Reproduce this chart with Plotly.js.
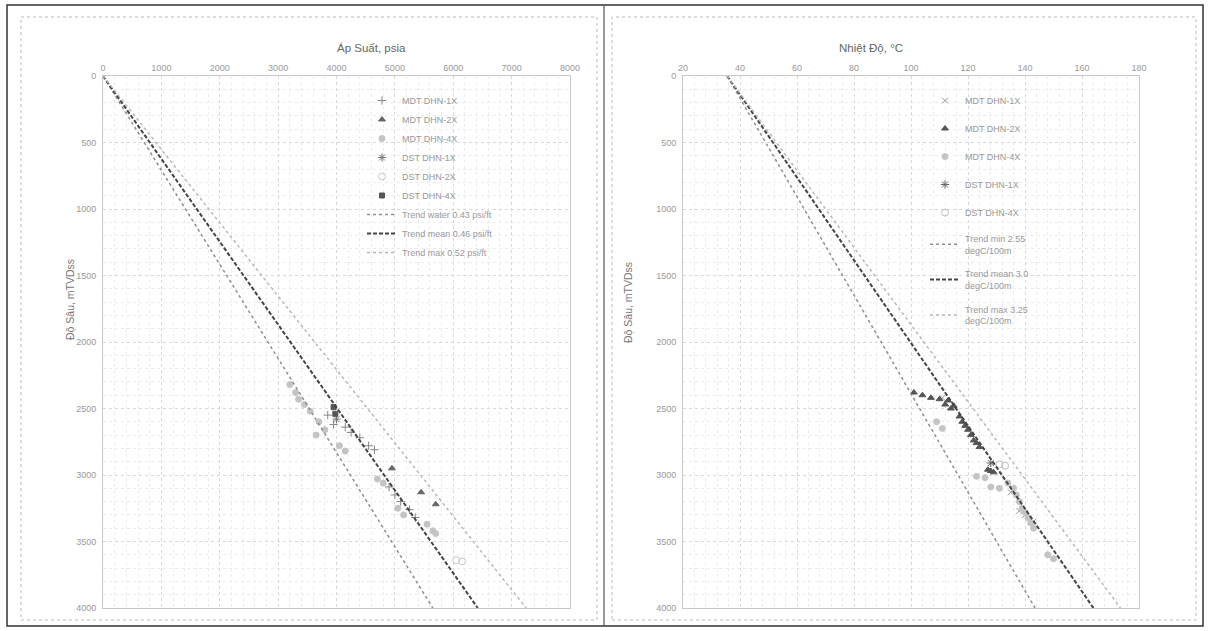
<!DOCTYPE html>
<html><head><meta charset="utf-8">
<script src="https://cdn.plot.ly/plotly-3.0.1.min.js"></script>
<style>html,body{margin:0;padding:0;background:#fff}#chart{width:1210px;height:631px}</style>
</head><body><div id="chart"></div>
<script>
// ---------- Left chart: pressure (psia) vs depth (mTVDss) ----------
const mdt1x_P = [3850,3950,4150,4250,4400,4550,4650,4900,5000,5100,5250,5350];
const mdt1x_D = [2550,2620,2640,2680,2720,2780,2810,3090,3150,3200,3260,3320];
const mdt2x_P = [4950,5450,5700];
const mdt2x_D = [2950,3130,3220];
const mdt4x_P = [3200,3300,3350,3450,3550,3700,3800,3650,4050,4150,4700,4800,5050,5150,5550,5650,5700];
const mdt4x_D = [2320,2380,2430,2470,2520,2600,2660,2700,2780,2820,3030,3060,3250,3300,3370,3420,3440];
const dst1x_P = [4000];
const dst1x_D = [2580];
const dst2x_P = [6050,6150];
const dst2x_D = [3640,3650];
const dst4x_P = [3950,3980];
const dst4x_D = [2490,2540];
const trendDepth = [0,4000];
const pWater = [0,5650];
const pMean = [0,6420];
const pMax = [0,7250];

// ---------- Right chart: temperature (°C) vs depth ----------
const tMdt1x_T = [111,135,138,140,143];
const tMdt1x_D = [2420,3130,3270,3300,3350];
const tMdt2x_T = [101,104,107,110,113,112,115,114,117,118,119,120,121,122,123,124,127,128,129];
const tMdt2x_D = [2380,2400,2420,2430,2440,2470,2480,2500,2560,2600,2630,2660,2700,2740,2760,2790,2960,2970,2980];
const tMdt4x_T = [109,111,123,126,128,131,134,136,137,138,139,140,141,142,143,148,150];
const tMdt4x_D = [2600,2650,3010,3020,3090,3100,3060,3100,3150,3200,3250,3280,3320,3360,3400,3600,3630];
const tDst1x_T = [128];
const tDst1x_D = [2910];
const tDst4x_T = [131,133];
const tDst4x_D = [2920,2930];
const tMin = [35.5,143.5];
const tMean = [35.5,164];
const tMax = [35.5,173.5];

const leftX = ['0','1000','2000','3000','4000','5000','6000','7000','8000'];

const FONT = 'Liberation Sans, Arial, sans-serif';
function pts(name,x,y,sym,color,size,xa,ya,leg,extra){
  return Object.assign({type:'scatter',mode:'markers',name:name,x:x,y:y,xaxis:xa,yaxis:ya,legend:leg,
    legendgroup:leg+name,
    marker:{symbol:sym,color:color,size:size,line:{color:color,width:1}}},extra||{});
}
function line(name,x,y,color,dash,width,xa,ya,leg){
  return {type:'scatter',mode:'lines',name:name,x:x,y:y,xaxis:xa,yaxis:ya,legend:leg,legendgroup:leg+name,
    line:{color:color,dash:dash,width:width}};
}

const data = [
  pts('MDT DHN-1X',mdt1x_P,mdt1x_D,'cross-thin',  '#888',6,'x','y','legend'),
  pts('MDT DHN-2X',mdt2x_P,mdt2x_D,'triangle-up','#666',6,'x','y','legend'),
  pts('MDT DHN-4X',mdt4x_P,mdt4x_D,'circle',     '#c4c4c4',6,'x','y','legend'),
  pts('DST DHN-1X',dst1x_P,dst1x_D,'asterisk-open','#777',7,'x','y','legend'),
  pts('DST DHN-2X',dst2x_P,dst2x_D,'circle-open','#c8c8c8',7,'x','y','legend'),
  pts('DST DHN-4X',dst4x_P,dst4x_D,'square',     '#555',5,'x','y','legend'),
  line('Trend water 0.43 psi/ft',pWater,trendDepth,'#8f8f8f','dot',1.5,'x','y','legend'),
  line('Trend mean 0.46 psi/ft',pMean,trendDepth,'#444','4px,2px',2,'x','y','legend'),
  line('Trend max 0.52 psi/ft',pMax,trendDepth,'#b8b8b8','dot',1.5,'x','y','legend'),

  pts('MDT DHN-1X',tMdt1x_T,tMdt1x_D,'x-thin','#999',6,'x2','y2','legend2'),
  pts('MDT DHN-2X',tMdt2x_T,tMdt2x_D,'triangle-up','#555',6,'x2','y2','legend2'),
  pts('MDT DHN-4X',tMdt4x_T,tMdt4x_D,'circle','#c4c4c4',6,'x2','y2','legend2'),
  pts('DST DHN-1X',tDst1x_T,tDst1x_D,'asterisk-open','#666',7,'x2','y2','legend2'),
  pts('DST DHN-4X',tDst4x_T,tDst4x_D,'circle-open','#bdbdbd',7,'x2','y2','legend2'),
  line('Trend min 2.55<br>degC/100m',tMin,trendDepth,'#8f8f8f','dot',1.5,'x2','y2','legend2'),
  line('Trend mean 3.0<br>degC/100m',tMean,trendDepth,'#444','4px,2px',2,'x2','y2','legend2'),
  line('Trend max 3.25<br>degC/100m',tMax,trendDepth,'#b8b8b8','dot',1.5,'x2','y2','legend2')
];

const W=1210,H=631;
const px=v=>v/W, py=v=>1-v/H;
const gridBase = {
  showgrid:true, gridcolor:'#d9d9d9', griddash:'dot', gridwidth:1,
  showline:true, linecolor:'#c8c8c8', linewidth:1, mirror:true, zeroline:false,
  ticks:'', tickfont:{family:FONT,size:9,color:'#9a9a9a'}, fixedrange:true
};
const layout = {
  width:W, height:H, margin:{l:0,r:0,t:0,b:0},
  paper_bgcolor:'#fff', plot_bgcolor:'#fff', font:{family:FONT,color:'#888'},
  showlegend:true,
  xaxis:Object.assign({},gridBase,{domain:[px(103),px(570)],range:[0,8000],side:'top',anchor:'y',
    tickvals:[0,1000,2000,3000,4000,5000,6000,7000,8000],ticktext:leftX,
    minor:{dtick:200,showgrid:true,gridcolor:'#ececec',griddash:'dot'}}),
  yaxis:Object.assign({},gridBase,{domain:[py(608),py(76)],range:[4000,0],dtick:500,anchor:'x',
    ticklabelstandoff:4, minor:{dtick:100,showgrid:true,gridcolor:'#ececec',griddash:'dot'}}),
  xaxis2:Object.assign({},gridBase,{domain:[px(683),px(1139)],range:[20,180],dtick:20,side:'top',anchor:'y2',
    minor:{dtick:4,showgrid:true,gridcolor:'#ececec',griddash:'dot'}}),
  yaxis2:Object.assign({},gridBase,{domain:[py(608),py(76)],range:[4000,0],dtick:500,anchor:'x2',
    ticklabelstandoff:4, minor:{dtick:100,showgrid:true,gridcolor:'#ececec',griddash:'dot'}}),
  legend:{x:px(362),y:py(86),xanchor:'left',yanchor:'top',bgcolor:'rgba(255,255,255,0)',
    font:{family:FONT,size:9,color:'#999'},traceorder:'normal',itemwidth:30},
  legend2:{x:px(925),y:py(86),xanchor:'left',yanchor:'top',bgcolor:'rgba(255,255,255,0)',
    font:{family:FONT,size:9,color:'#999'},traceorder:'grouped',tracegroupgap:9,itemwidth:30},
  annotations:[
    {text:'Áp Suất, psia',xref:'paper',yref:'paper',x:px(335),y:py(40),showarrow:false,
     font:{family:FONT,size:11.5,color:'#666'}},
    {text:'Nhiệt Độ, °C',xref:'paper',yref:'paper',x:px(905),y:py(40),showarrow:false,
     font:{family:FONT,size:11.5,color:'#666'}},
    {text:'Độ Sâu, mTVDss',xref:'paper',yref:'paper',x:px(62),y:py(300),showarrow:false,textangle:-90,
     font:{family:FONT,size:10.5,color:'#777'}},
    {text:'Độ Sâu, mTVDss',xref:'paper',yref:'paper',x:px(628),y:py(303),showarrow:false,textangle:-90,
     font:{family:FONT,size:10.5,color:'#777'}}
  ],
  shapes:[
    {type:'rect',xref:'paper',yref:'paper',x0:px(7),x1:px(1203),y0:py(626),y1:py(5),line:{color:'#333',width:1.5}},
    {type:'line',xref:'paper',yref:'paper',x0:px(604),x1:px(604),y0:py(626),y1:py(5),line:{color:'#555',width:1.2}},
    {type:'rect',xref:'paper',yref:'paper',x0:px(21),x1:px(597),y0:py(620),y1:py(17),line:{color:'#bbb',width:1,dash:'dot'}},
    {type:'rect',xref:'paper',yref:'paper',x0:px(612),x1:px(1196),y0:py(620),y1:py(17),line:{color:'#bbb',width:1,dash:'dot'}}
  ]
};
Plotly.newPlot('chart',data,layout,{staticPlot:true,displayModeBar:false});
</script></body></html>
